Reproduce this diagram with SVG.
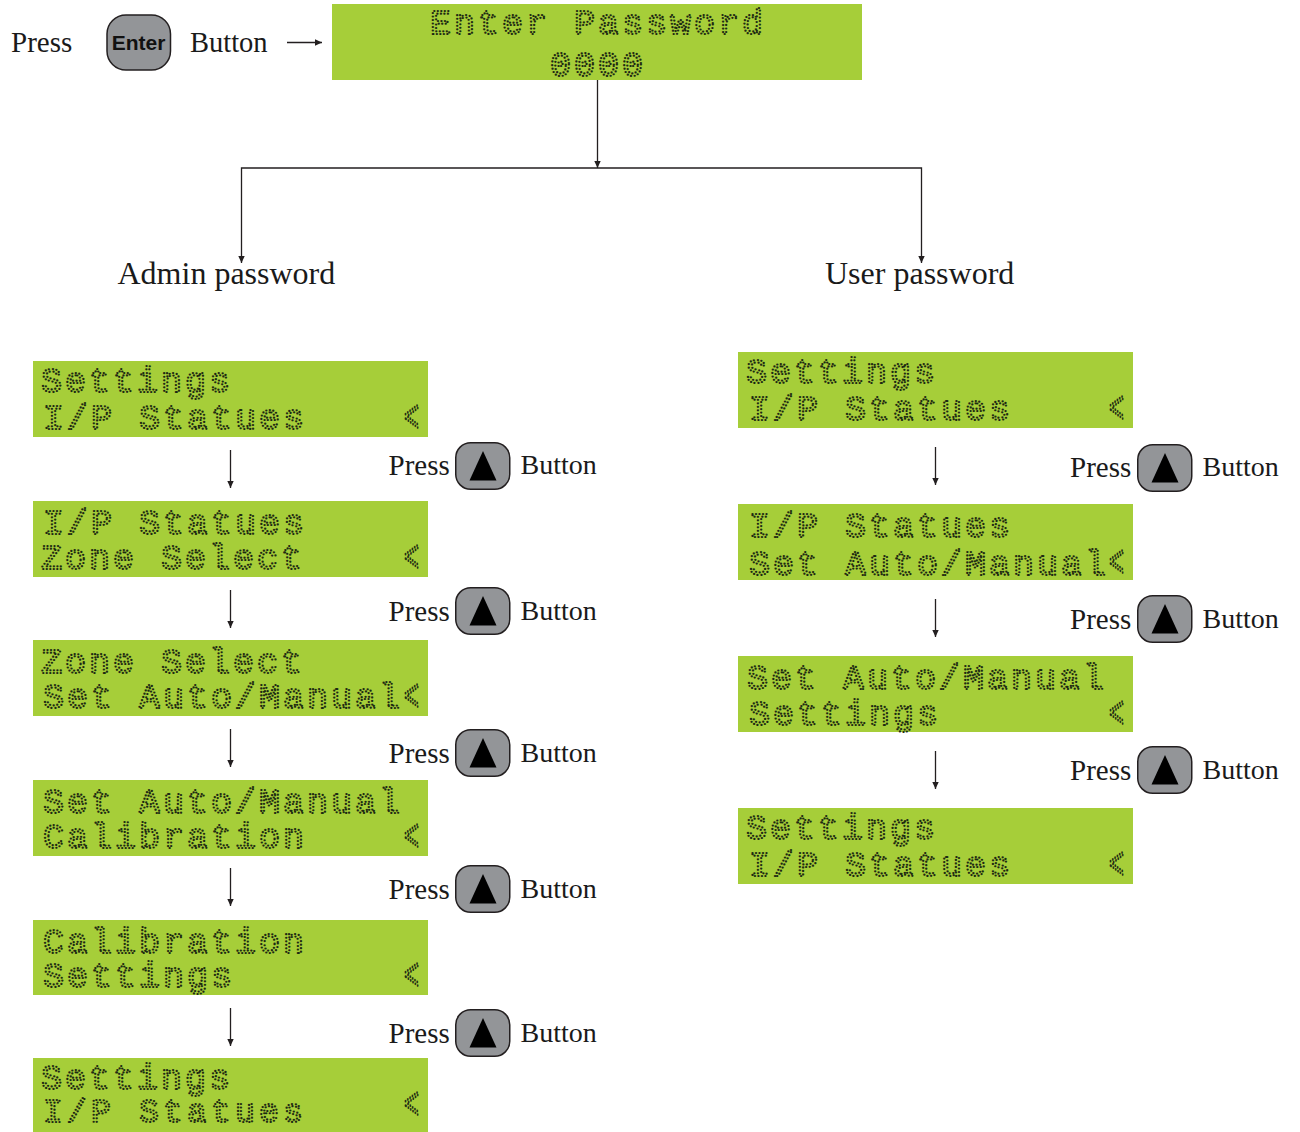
<svg xmlns="http://www.w3.org/2000/svg" width="1300" height="1132" viewBox="0 0 1300 1132">
<style>
.lcd{fill:#a6ce39}
.m{font-family:"Liberation Mono",monospace;font-size:35px;letter-spacing:3px;fill:none;stroke:#1d2a12;stroke-width:2.2;stroke-linecap:round;stroke-dasharray:0 3.5;white-space:pre}
.n{font-size:33px;letter-spacing:4.2px}
.s{font-family:"Liberation Serif",serif;font-size:28px;fill:#1a1a1a}
.p{font-size:29px}
.l{font-size:32px}
.b{fill:#939598;stroke:#231f20;stroke-width:1.5}
.c{fill:none;stroke:#231f20;stroke-width:1.3}
</style>
<defs>
<marker id="a" markerUnits="userSpaceOnUse" markerWidth="8" markerHeight="8" refX="7" refY="4" orient="auto"><path d="M0 0.8L7 4L0 7.2z" fill="#231f20"/></marker>
<g id="up"><rect class="b" x="0.75" y="0.75" width="54" height="46.5" rx="15"/><path d="M28 9L41.500 38.500H14.500z" fill="#000"/></g>
</defs>
<g id="connectors">
<path class="c" marker-end="url(#a)" d="M287 42.500H322"/>
<path class="c" marker-end="url(#a)" d="M597.500 80V168"/>
<path class="c" marker-end="url(#a)" d="M597 168H241.500V263"/>
<path class="c" marker-end="url(#a)" d="M597 168H921.500V263"/>
<path class="c" marker-end="url(#a)" d="M230.500 450V488"/>
<path class="c" marker-end="url(#a)" d="M230.500 590V628"/>
<path class="c" marker-end="url(#a)" d="M230.500 729V767"/>
<path class="c" marker-end="url(#a)" d="M230.500 868V906"/>
<path class="c" marker-end="url(#a)" d="M230.500 1008V1046"/>
<path class="c" marker-end="url(#a)" d="M935.500 447V485"/>
<path class="c" marker-end="url(#a)" d="M935.500 599V637"/>
<path class="c" marker-end="url(#a)" d="M935.500 751V789"/>
</g>
<g id="press-enter">
<text class="s p" x="11" y="52">Press</text>
<rect class="b" x="107" y="15" width="63.500" height="55" rx="19"/>
<text x="138.500" y="50" text-anchor="middle" font-family="Liberation Sans,sans-serif" font-weight="700" font-size="21" fill="#111">Enter</text>
<text class="s" x="190" y="52" style="font-size:28.500px">Button</text>
</g>
<g id="enter-password"><rect class="lcd" x="332" y="4" width="530" height="76"/>
<text class="m" x="430" y="34">Enter Password</text><text class="m" x="550" y="76">0000</text></g>
<g id="admin-label"><text class="s l" x="117.500" y="284">Admin password</text></g>
<g id="user-label"><text class="s l" x="825" y="284">User password</text></g>

<g id="a1"><rect class="lcd" x="33" y="361" width="395" height="76"/><text class="m" x="41" y="392">Settings</text><text class="m" x="43" y="429">I/P Statues</text><text class="m" transform="translate(404 431) scale(.72 1.25)">&lt;</text></g>
<g id="a2"><rect class="lcd" x="33" y="501" width="395" height="76"/><text class="m" x="43" y="534">I/P Statues</text><text class="m" x="41" y="569">Zone Select</text><text class="m" transform="translate(404 571) scale(.72 1.25)">&lt;</text></g>
<g id="a3"><rect class="lcd" x="33" y="640" width="395" height="76"/><text class="m" x="41" y="673">Zone Select</text><text class="m" x="43" y="708">Set Auto/Manual</text><text class="m" transform="translate(404 710) scale(.72 1.25)">&lt;</text></g>
<g id="a4"><rect class="lcd" x="33" y="780" width="395" height="76"/><text class="m" x="43" y="813">Set Auto/Manual</text><text class="m" x="43" y="848">Calibration</text><text class="m" transform="translate(404 850) scale(.72 1.25)">&lt;</text></g>
<g id="a5"><rect class="lcd" x="33" y="920" width="395" height="75"/><text class="m" x="43" y="953">Calibration</text><text class="m" x="43" y="987">Settings</text><text class="m" transform="translate(404 989) scale(.72 1.25)">&lt;</text></g>
<g id="a6"><rect class="lcd" x="33" y="1058" width="395" height="74"/><text class="m" x="41" y="1089">Settings</text><text class="m n" x="43" y="1122">I/P Statues</text><text class="m" transform="translate(404 1118) scale(.72 1.25)">&lt;</text></g>

<g id="u1"><rect class="lcd" x="738" y="352" width="395" height="76"/><text class="m" x="746" y="383">Settings</text><text class="m" x="749" y="420">I/P Statues</text><text class="m" transform="translate(1109 422) scale(.72 1.25)">&lt;</text></g>
<g id="u2"><rect class="lcd" x="738" y="504" width="395" height="76"/><text class="m" x="749" y="537">I/P Statues</text><text class="m" x="749" y="575">Set Auto/Manual</text><text class="m" transform="translate(1109 576) scale(.72 1.25)">&lt;</text></g>
<g id="u3"><rect class="lcd" x="738" y="656" width="395" height="76"/><text class="m" x="747" y="689">Set Auto/Manual</text><text class="m" x="749" y="725">Settings</text><text class="m" transform="translate(1109 727) scale(.72 1.25)">&lt;</text></g>
<g id="u4"><rect class="lcd" x="738" y="808" width="395" height="76"/><text class="m" x="746" y="839">Settings</text><text class="m" x="749" y="876">I/P Statues</text><text class="m" transform="translate(1109 878) scale(.72 1.25)">&lt;</text></g>

<g id="p1"><text class="s p" x="388.500" y="474.500">Press</text><use href="#up" x="455" y="442"/><text class="s" x="520.500" y="474">Button</text></g>
<g id="p2"><text class="s p" x="388.500" y="620.500">Press</text><use href="#up" x="455" y="587"/><text class="s" x="520.500" y="620">Button</text></g>
<g id="p3"><text class="s p" x="388.500" y="762.500">Press</text><use href="#up" x="455" y="729"/><text class="s" x="520.500" y="762">Button</text></g>
<g id="p4"><text class="s p" x="388.500" y="898.500">Press</text><use href="#up" x="455" y="865"/><text class="s" x="520.500" y="898">Button</text></g>
<g id="p5"><text class="s p" x="388.500" y="1042.500">Press</text><use href="#up" x="455" y="1009"/><text class="s" x="520.500" y="1042">Button</text></g>
<g id="p6"><text class="s p" x="1070" y="476.500">Press</text><use href="#up" x="1137" y="444"/><text class="s" x="1202.500" y="476">Button</text></g>
<g id="p7"><text class="s p" x="1070" y="628.500">Press</text><use href="#up" x="1137" y="595"/><text class="s" x="1202.500" y="628">Button</text></g>
<g id="p8"><text class="s p" x="1070" y="779.500">Press</text><use href="#up" x="1137" y="746"/><text class="s" x="1202.500" y="779">Button</text></g>
</svg>
